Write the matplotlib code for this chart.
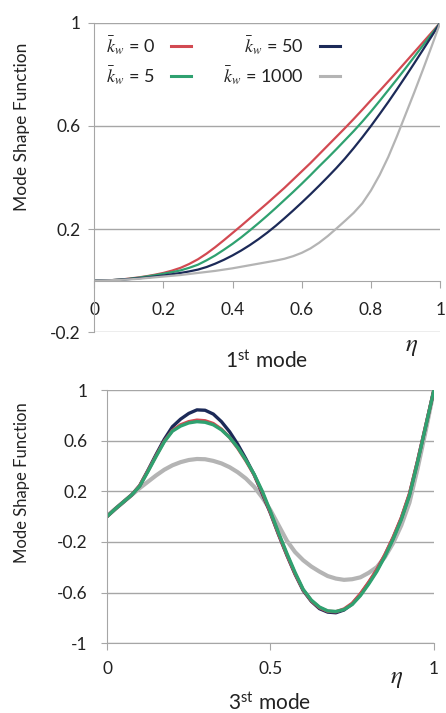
import matplotlib.pyplot as plt
import numpy as np

plt.rcParams["font.family"] = ["Lato", "DejaVu Sans"]
plt.rcParams["mathtext.fontset"] = "stix"

eta = np.linspace(0, 1, 41)

# mode 1 (top panel), read every 0.025 in eta
m1_k0 = [0, 0.001, 0.002, 0.004, 0.008, 0.012, 0.017, 0.023, 0.03, 0.039, 0.05,
         0.065, 0.083, 0.105, 0.13, 0.157, 0.185, 0.213, 0.242, 0.271, 0.30,
         0.33, 0.36, 0.392, 0.424, 0.456, 0.49, 0.524, 0.558, 0.592, 0.627,
         0.663, 0.70, 0.736, 0.773, 0.81, 0.848, 0.886, 0.924, 0.962, 1.0]
m1_k5 = [0, 0.001, 0.002, 0.004, 0.007, 0.011, 0.016, 0.021, 0.027, 0.033, 0.04,
         0.05, 0.062, 0.079, 0.098, 0.12, 0.143, 0.168, 0.195, 0.223, 0.252,
         0.282, 0.313, 0.344, 0.376, 0.409, 0.443, 0.476, 0.51, 0.545, 0.58,
         0.617, 0.656, 0.697, 0.739, 0.781, 0.824, 0.868, 0.912, 0.956, 1.0]
m1_k50 = [0, 0.001, 0.002, 0.004, 0.006, 0.009, 0.012, 0.016, 0.02, 0.025, 0.03,
          0.036, 0.043, 0.053, 0.066, 0.081, 0.098, 0.117, 0.138, 0.161, 0.186,
          0.213, 0.242, 0.272, 0.303, 0.335, 0.368, 0.402, 0.437, 0.474, 0.514,
          0.556, 0.60, 0.646, 0.693, 0.742, 0.792, 0.843, 0.895, 0.947, 1.0]
m1_k1000 = [0, 0.001, 0.002, 0.003, 0.005, 0.007, 0.01, 0.013, 0.016, 0.019, 0.022,
            0.026, 0.03, 0.034, 0.038, 0.043, 0.048, 0.054, 0.06, 0.066, 0.072,
            0.078, 0.085, 0.095, 0.108, 0.125, 0.147, 0.173, 0.202, 0.232, 0.263,
            0.30, 0.35, 0.41, 0.48, 0.56, 0.645, 0.73, 0.818, 0.908, 1.0]

# mode 3 (bottom panel)
m3_k0 = [0, 0.06, 0.115, 0.17, 0.245, 0.36, 0.48, 0.595, 0.68, 0.725, 0.75,
         0.762, 0.757, 0.735, 0.69, 0.625, 0.54, 0.44, 0.33, 0.19, 0.03,
         -0.14, -0.30, -0.45, -0.58, -0.665, -0.72, -0.748, -0.752, -0.73, -0.685,
         -0.61, -0.52, -0.42, -0.30, -0.165, -0.01, 0.18, 0.44, 0.72, 1.0]
m3_k5 = [0, 0.06, 0.115, 0.17, 0.24, 0.355, 0.475, 0.59, 0.675, 0.715, 0.74,
         0.75, 0.745, 0.725, 0.685, 0.625, 0.545, 0.445, 0.335, 0.2, 0.04,
         -0.13, -0.29, -0.44, -0.575, -0.66, -0.715, -0.745, -0.75, -0.735, -0.695,
         -0.625, -0.535, -0.435, -0.315, -0.18, -0.025, 0.165, 0.43, 0.715, 1.0]
m3_k50 = [0, 0.06, 0.115, 0.17, 0.245, 0.365, 0.49, 0.61, 0.71, 0.77, 0.815,
          0.843, 0.84, 0.81, 0.75, 0.67, 0.57, 0.455, 0.33, 0.18, 0.025,
          -0.145, -0.305, -0.455, -0.585, -0.67, -0.728, -0.755, -0.76, -0.738, -0.69,
          -0.615, -0.525, -0.425, -0.305, -0.17, -0.015, 0.175, 0.44, 0.72, 1.0]
m3_k1000 = [0.005, 0.06, 0.115, 0.17, 0.225, 0.275, 0.325, 0.37, 0.405, 0.43, 0.447,
            0.455, 0.453, 0.44, 0.42, 0.39, 0.35, 0.30, 0.235, 0.15, 0.05,
            -0.07, -0.19, -0.28, -0.345, -0.395, -0.435, -0.47, -0.49, -0.50, -0.495,
            -0.48, -0.445, -0.40, -0.32, -0.21, -0.07, 0.11, 0.38, 0.68, 1.0]

labels = [r"$\bar{k}_w$ = 0", r"$\bar{k}_w$ = 5", r"$\bar{k}_w$ = 50", r"$\bar{k}_w$ = 1000"]
colors = ["#d24a52", "#2fa170", "#1c2a58", "#b4b4b4"]
grid_c = "#a6a6a6"
txt_c = "#222222"

fig = plt.figure(figsize=(4.46, 7.13), dpi=100)

# top panel
ax1 = fig.add_axes([0.211, 0.534, 0.776, 0.434])
for ys, c, lab in zip([m1_k0, m1_k5, m1_k50, m1_k1000], colors, labels):
    ax1.plot(eta, ys, color=c, lw=1.6, label=lab)
ax1.set_xlim(0, 1)
ax1.set_ylim(-0.2, 1)
ax1.set_yticks([-0.2, 0.2, 0.6, 1])
ax1.set_yticklabels(["-0.2", "0.2", "0.6", "1"])
ax1.set_xticks([0, 0.2, 0.4, 0.6, 0.8, 1])
ax1.set_xticklabels(["0", "0.2", "0.4", "0.6", "0.8", "1"])
ax1.spines["bottom"].set_position(("data", 0))
for s in ["top", "right"]:
    ax1.spines[s].set_visible(False)
ax1.spines["left"].set_color(grid_c)
ax1.spines["bottom"].set_color(grid_c)
ax1.yaxis.grid(True, color=grid_c, lw=1)
ax1.set_axisbelow(True)
ax1.tick_params(axis="x", colors=grid_c, length=5, pad=10, labelsize=12.5, labelcolor=txt_c)
ax1.tick_params(axis="y", colors=grid_c, length=4, pad=6, labelsize=12.5, labelcolor=txt_c)
leg = ax1.legend(ncol=2, frameon=False, markerfirst=False, fontsize=13,
                 handlelength=1.1, handletextpad=0.9, columnspacing=1.8,
                 labelspacing=0.4, loc="upper left", bbox_to_anchor=(0.0, 1.0),
                 borderaxespad=0.25)
for ln in leg.get_lines():
    ln.set_linewidth(2.2)
for t in leg.get_texts():
    t.set_color(txt_c)

fig.text(22 / 446, 1 - 127 / 713, "Mode Shape Function", rotation=90,
         ha="center", va="center", fontsize=12.5, color=txt_c)
fig.text(267 / 446, 1 - 361 / 713, r"1$^{\mathregular{st}}$ mode", ha="center", va="center",
         fontsize=15, color=txt_c)
fig.text(412 / 446, 1 - 346 / 713, r"$\eta$", ha="center", va="center", fontsize=18, color=txt_c)

# bottom panel
ax2 = fig.add_axes([0.240, 0.098, 0.733, 0.355])
lws = [2.4, 2.4, 2.4, 3.0]
series = [m3_k0, m3_k5, m3_k50, m3_k1000]
for i in [3, 2, 0, 1]:
    ax2.plot(eta, series[i], color=colors[i], lw=lws[i])
ax2.set_xlim(0, 1)
ax2.set_ylim(-1, 1)
ax2.set_yticks([-1, -0.6, -0.2, 0.2, 0.6, 1])
ax2.set_yticklabels(["-1", "-0.6", "-0.2", "0.2", "0.6", "1"])
ax2.set_xticks([0, 0.5, 1])
ax2.set_xticklabels(["0", "0.5", "1"])
for s in ["top", "right"]:
    ax2.spines[s].set_visible(False)
ax2.spines["left"].set_color(grid_c)
ax2.spines["bottom"].set_color(grid_c)
ax2.yaxis.grid(True, color=grid_c, lw=1)
ax2.set_axisbelow(True)
ax2.tick_params(axis="x", colors=grid_c, length=5, pad=8, labelsize=12.5, labelcolor=txt_c)
ax2.tick_params(axis="y", colors=grid_c, length=4, pad=10, labelsize=12.5, labelcolor=txt_c)

fig.text(22 / 446, 1 - 483 / 713, "Mode Shape Function", rotation=90,
         ha="center", va="center", fontsize=12, color=txt_c)
fig.text(270 / 446, 1 - 703 / 713, r"3$^{\mathregular{st}}$ mode", ha="center", va="center",
         fontsize=15, color=txt_c)
fig.text(397 / 446, 1 - 679 / 713, r"$\eta$", ha="center", va="center", fontsize=18, color=txt_c)

fig.savefig("out.png", dpi=100)
